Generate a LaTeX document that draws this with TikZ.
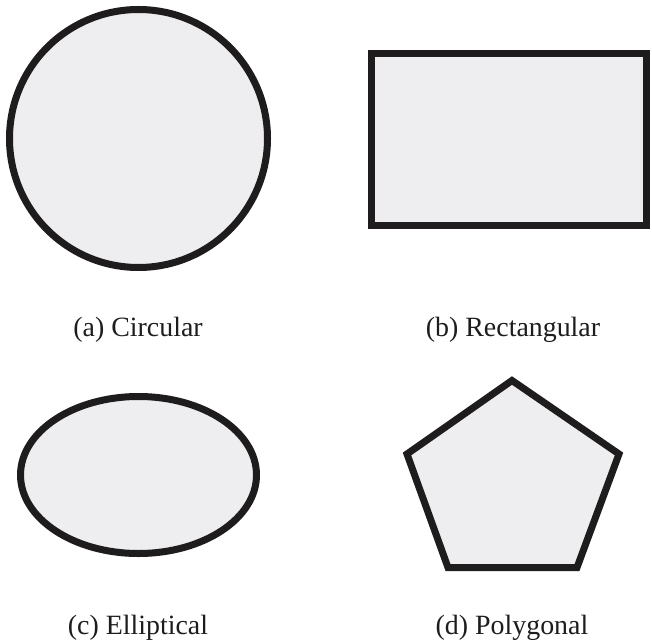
\documentclass[tikz,border=0pt]{standalone}
\usepackage{fontspec}
\setmainfont{Liberation Serif}
\definecolor{shapefill}{RGB}{238,238,240}
\definecolor{shapeline}{RGB}{30,28,28}
\begin{document}
\begin{tikzpicture}[x=1bp,y=-1bp,
  shapestyle/.style={draw=shapeline,fill=shapefill,line width=7bp,line join=miter},
  caption/.style={anchor=base,font=\fontsize{28}{30}\selectfont,text=shapeline,inner sep=0pt}]
\useasboundingbox (0,0) rectangle (652,642);
% (a) circle
\draw[shapestyle] (138.5,138.5) circle[radius=129];
% (b) rectangle
\draw[shapestyle] (371.5,53.5) rectangle (646.5,225.5);
% (c) ellipse
\draw[shapestyle] (138.5,475) ellipse[x radius=118, y radius=78.5];
% (d) pentagon
\draw[shapestyle] (512,380.5) -- (619,454) -- (577,567.5) -- (448,567.5) -- (407,454) -- cycle;
% captions
\node[caption] (capa) at (138,336) {(a) Circular};
\node[caption] (capb) at (513,336) {(b) Rectangular};
\node[caption] (capc) at (138,634) {(c) Elliptical};
\node[caption] (capd) at (512,634) {(d) Polygonal};
\end{tikzpicture}
\end{document}
